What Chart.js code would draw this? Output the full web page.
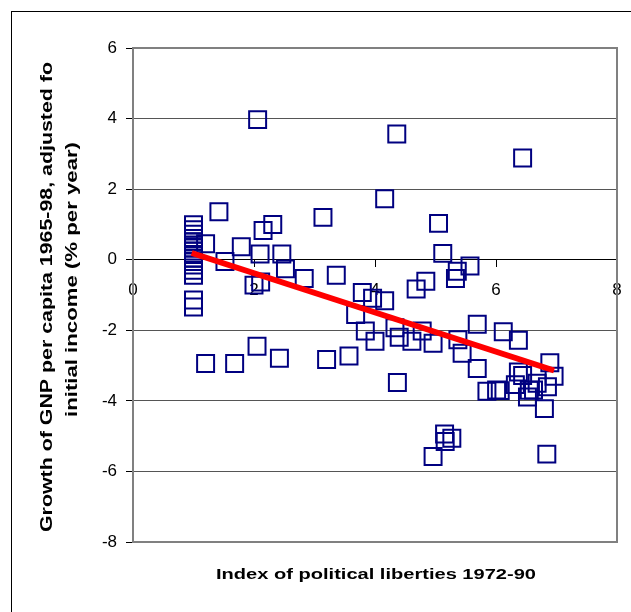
<!DOCTYPE html>
<html>
<head>
<meta charset="utf-8">
<script src="https://cdn.jsdelivr.net/npm/chart.js@4.4.1/dist/chart.umd.min.js"></script>
<style>
  html, body { margin: 0; padding: 0; background: #fff; overflow: hidden; }
  canvas { display: block; }
</style>
</head>
<body>
<canvas id="chart" width="631" height="612"></canvas>
<script>
// Growth vs political liberties scatter, with fitted line on top.

const libertyIndex = [
  1.0, 1.0, 1.0, 1.0, 1.0, 1.0, 1.0, 1.0, 1.0, 1.0, 1.0, 1.0, 1.0, 1.0, 1.0, 1.0,
  1.42, 1.2, 1.52, 1.79, 2.15, 2.31, 2.1, 2.46, 2.52, 2.83, 2.0, 2.11, 3.14,
  1.2, 1.68, 2.05, 2.42, 3.2, 3.57,
  2.06, 4.36, 6.44, 4.16,
  5.05, 5.12, 3.36, 5.57, 5.36, 5.33, 4.84, 4.68,
  3.79, 3.96, 4.16, 3.68, 3.84, 4.0, 4.33, 4.4,
  4.61, 4.78, 4.96, 5.37, 5.44, 5.69, 6.12, 6.37, 5.69, 5.85, 6.01, 6.07,
  4.37,
  6.37, 6.44, 6.32, 6.55, 6.52, 6.62, 6.8, 6.89, 6.96, 6.85, 6.68,
  4.96, 5.15, 5.27, 5.16, 6.84
]
const gnpGrowth = [
  0.99, 0.85, 0.72, 0.6, 0.5, 0.42, 0.33, 0.25, 0.15, 0.05, -0.05, -0.15, -0.3, -0.44, -1.14, -1.34,
  1.36, 0.45, -0.05, 0.37, 0.83, 1.0, 0.16, 0.16, -0.26, -0.53, -0.72, -0.63, 1.2,
  -2.94, -2.94, -2.45, -2.79, -2.83, -2.73,
  3.97, 3.56, 2.88, 1.73,
  1.03, 0.18, -0.44, -0.18, -0.33, -0.53, -0.61, -0.83,
  -0.93, -1.09, -1.16, -1.55, -2.02, -2.31, -1.93, -2.2,
  -2.31, -2.02, -2.37, -2.27, -2.65, -1.83, -2.04, -2.28, -3.08, -3.73, -3.69, -3.71,
  -3.48,
  -3.18, -3.28, -3.54, -3.7, -3.89, -3.69, -4.22, -2.92, -3.3, -3.6, -3.5,
  -5.58, -4.94, -5.06, -5.15, -5.51
]

// fitted line end points
const trendX = [0.97, 6.96]
const trendY = [0.19, -3.14]

const xTitle = "Index of political liberties 1972-90"
const yTitleLines = ["Growth of GNP per capita 1965-98, adjusted fo", "initial income (% per year)"]

const FONT = "'Liberation Sans', Arial, sans-serif"

// Excel-ish wide text: stretch each string along its own baseline to the target length
const stretchText = (ctx, text, x, y, targetLen, rotate) => {
  ctx.save()
  ctx.translate(x, y)
  if (rotate) ctx.rotate(-Math.PI / 2)
  const w = ctx.measureText(text).width
  ctx.scale(targetLen / w, 1)
  ctx.fillText(text, 0, 0)
  ctx.restore()
}

const frameAndTitles = {
  id: "frameAndTitles",
  beforeDatasetsDraw(chart) {
    const { ctx, chartArea: a } = chart
    ctx.save()
    ctx.strokeStyle = "#808080"
    ctx.lineWidth = 2
    ctx.strokeRect(a.left, a.top, a.right - a.left, a.bottom - a.top)
    ctx.restore()
  },
  afterDraw(chart) {
    const { ctx } = chart
    ctx.save()
    // outer chart frame (runs off the page at right and bottom)
    ctx.strokeStyle = "#000"
    ctx.lineWidth = 1
    ctx.strokeRect(11.5, 11.5, 800, 800)

    ctx.fillStyle = "#000"
    ctx.textAlign = "left"
    ctx.textBaseline = "alphabetic"
    ctx.font = "bold 15px " + FONT
    stretchText(ctx, xTitle, 216, 579, 320, false)

    ctx.font = "bold 16px " + FONT
    stretchText(ctx, yTitleLines[0], 52, 532, 470, true)
    stretchText(ctx, yTitleLines[1], 77, 417, 275, true)
    ctx.restore()
  },
}

const tickFont = { family: FONT, size: 17 }

new Chart(document.getElementById("chart").getContext("2d"), {
  type: "scatter",
  data: {
    datasets: [
      {
        type: "line",
        data: trendX.map((x, i) => ({ x, y: trendY[i] })),
        borderColor: "#ff0000",
        borderWidth: 6,
        borderCapStyle: "butt",
        pointRadius: 0,
        fill: false,
        order: 0,
      },
      {
        data: libertyIndex.map((x, i) => ({ x, y: gnpGrowth[i] })),
        pointStyle: "rect",
        pointRadius: 12,
        pointHoverRadius: 12,
        borderColor: "#000080",
        borderWidth: 2,
        backgroundColor: "rgba(0,0,0,0)",
        order: 1,
      },
    ],
  },
  options: {
    responsive: false,
    devicePixelRatio: 1,
    animation: false,
    events: [],
    layout: { padding: { left: 0, top: 48, right: 14, bottom: 70 } },
    plugins: { legend: { display: false }, tooltip: { enabled: false } },
    scales: {
      x: {
        type: "linear",
        min: 0,
        max: 8,
        position: { y: 0 },
        // axis sits inside the plot: take no room, and don't pad for the end labels
        afterFit: (s) => { s.height = 0; s.paddingLeft = 0; s.paddingRight = 0 },
        ticks: { stepSize: 2, color: "#000", font: tickFont, padding: 13, maxRotation: 0 },
        grid: { drawOnChartArea: false, drawTicks: true, tickLength: 7, tickColor: "#000", tickWidth: 1 },
        border: { color: "#000", width: 1 },
      },
      y: {
        type: "linear",
        min: -8,
        max: 6,
        afterFit: (s) => { s.width = 133 },
        ticks: { stepSize: 2, color: "#000", font: tickFont, padding: 9 },
        grid: {
          color: (c) => (c.tick && c.tick.value === 0 ? "#000" : "#555"),
          lineWidth: 1,
          drawTicks: true,
          tickLength: 7,
          tickColor: "#000",
        },
        border: { color: "#000", width: 1 },
      },
    },
  },
  plugins: [frameAndTitles],
})
</script>
</body>
</html>
